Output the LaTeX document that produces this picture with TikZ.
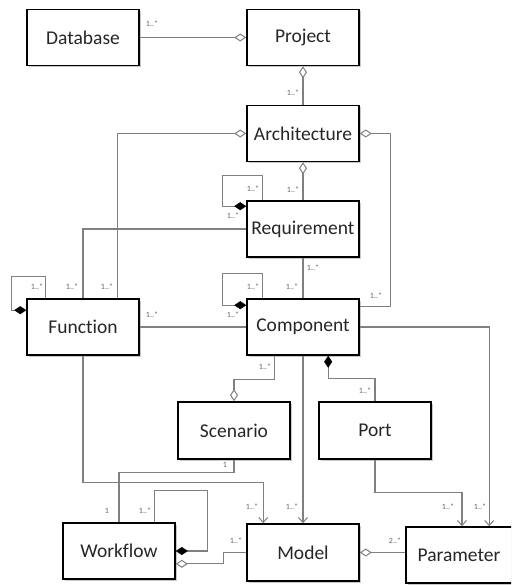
\documentclass[tikz,border=0pt]{standalone}
\usepackage{fontspec}
\setmainfont{Carlito}[RawFeature=-liga]
\usetikzlibrary{arrows.meta,calc,shadows}
\begin{document}
\begin{tikzpicture}[x=1pt,y=-1pt,
  cls/.style={draw=black,line width=1.6pt,fill=white,minimum width=112pt,minimum height=56pt,
    font=\fontsize{19.5}{22}\selectfont,text=black!85,inner sep=0pt,
    drop shadow={shadow xshift=2pt,shadow yshift=-2pt,fill=black!35,opacity=0.6}},
  conn/.style={draw=black!50,line width=1.1pt},
  agg/.style={conn,-{Diamond[open,fill=white,length=12pt,width=8pt,line width=1pt]}},
  aggs/.style={conn,{Diamond[open,fill=white,length=12pt,width=8pt,line width=1pt]}-},
  comp/.style={conn,-{Diamond[color=black,fill=black,length=12pt,width=8pt,line width=0.5pt]}},
  comps/.style={conn,{Diamond[color=black,fill=black,length=12pt,width=8pt,line width=0.5pt]}-},
  nav/.style={conn,-{Straight Barb[length=5pt,width=9pt,line width=1pt]}},
  mult/.style={font=\fontsize{8}{9}\selectfont,text=black!60,inner sep=0pt}
]
\clip (0,0) rectangle (511,585);
\fill[white] (0,0) rectangle (511,585);

% classes
\node[cls] (Database) at (83,37.5) {Database};
\node[cls] (Project) at (303,37.5) {Project};
\node[cls] (Architecture) at (303,133.5) {Architecture};
\node[cls] (Requirement) at (303,229) {Requirement};
\node[cls] (Function) at (83,327) {Function};
\node[cls] (Component) at (303,327) {Component};
\node[cls,minimum height=57pt] (Scenario) at (234,430.5) {Scenario};
\node[cls,minimum height=57pt] (Port) at (375,430.5) {Port};
\node[cls] (Workflow) at (119,551) {Workflow};
\node[cls,minimum height=57pt] (Model) at (303,552.5) {Model};
\node[cls] (Parameter) at (462,555) {\hspace*{-6pt}Parameter};

% Database - Project
\draw[agg] (Database.east) -- (Project.west);
\node[mult] (m1) at (152,24) {1..*};

% Project - Architecture
\draw[aggs] (Project.south) -- (Architecture.north);
\node[mult] (m2) at (293,93) {1..*};

% Architecture - Function
\draw[agg] ($(Function.north west)+(91,0)$) |- (Architecture.west);
\node[mult] (m3) at (107,287) {1..*};

% Architecture - Component (right)
\draw[agg] ($(Component.north east)+(0,8)$) -| ($(Architecture.east)+(31,0)$) -- (Architecture.east);
\node[mult] (m4) at (376,296) {1..*};

% Architecture - Requirement
\draw[aggs] (Architecture.south) -- (Requirement.north);
\node[mult] (m5) at (293,190) {1..*};

% Requirement self loop
\coordinate (rq1) at ($(Requirement.north west)+(16,-25)$);
\coordinate (rq2) at ($(Requirement.north west)+(-24,6)$);
\draw[comp] ($(Requirement.north west)+(16,0)$) -- (rq1) -| (rq2) -- ($(Requirement.north west)+(0,6)$);
\node[mult] (m6) at (253,189) {1..*};
\node[mult] (m7) at (233,216) {1..*};

% Requirement - Function
\draw[conn] (Requirement.west) -| (Function.north);
\node[mult] (m8) at (72,287) {1..*};

% Requirement - Component
\draw[conn] (Requirement.south) -- (Component.north);
\node[mult] (m9) at (313,268) {1..*};
\node[mult] (m10) at (292,287) {1..*};

% Component self loop
\coordinate (cp1) at ($(Component.north west)+(16,-25)$);
\coordinate (cp2) at ($(Component.north west)+(-24,7)$);
\draw[comp] ($(Component.north west)+(16,0)$) -- (cp1) -| (cp2) -- ($(Component.north west)+(0,7)$);
\node[mult] (m11) at (253,287) {1..*};
\node[mult] (m12) at (233,315) {1..*};

% Function self loop
\coordinate (fn1) at ($(Function.north west)+(19,-22)$);
\coordinate (fn2) at ($(Function.north west)+(-15,12)$);
\draw[comp] ($(Function.north west)+(19,0)$) -- (fn1) -| (fn2) -- ($(Function.north west)+(0,12)$);
\node[mult] (m13) at (37,287) {1..*};

% Function - Component
\draw[conn] (Function.east) -- (Component.west);
\node[mult] (m14) at (152,315) {1..*};

% Component - Parameter
\draw[nav] (Component.east) -| ($(Parameter.north west)+(84,0)$);
\node[mult] (m15) at (480,507) {1..*};

% Component - Scenario
\draw[agg] ($(Component.south west)+(28,0)$) -- ($(Component.south west)+(28,24)$) -| (Scenario.north);
\node[mult] (m16) at (265,367) {1..*};

% Component - Model
\draw[nav] (Component.south) -- (Model.north);
\node[mult] (m17) at (292,507) {1..*};

% Component - Port (composition)
\draw[comps] ($(Component.south west)+(82,0)$) |- ($(Port.north)+(0,-23)$) -- (Port.north);
\node[mult] (m18) at (365,391) {1..*};

% Port - Parameter
\draw[nav] (Port.south) -- ($(Port.south)+(0,33)$) -| (Parameter.north);
\node[mult] (m19) at (448,507) {1..*};

% Function - Model
\draw[nav] (Function.south) -- ($(Function.south)+(0,127)$) -| ($(Model.north west)+(17,0)$);
\node[mult] (m20) at (252,507) {1..*};

% Scenario - Workflow
\draw[conn] (Scenario.south) -- ($(Scenario.south)+(0,13)$) -| (Workflow.north);
\node[mult] (m21) at (225,465) {1};
\node[mult] (m22) at (107,511) {1};

% Workflow self loop
\coordinate (wf1) at ($(Workflow.north west)+(92,-32)$);
\coordinate (wf2) at ($(Workflow.east)+(32,0)$);
\draw[comp] ($(Workflow.north west)+(92,0)$) -- (wf1) -| (wf2) -- (Workflow.east);
\node[mult] (m23) at (145,511) {1..*};

% Model - Workflow
\draw[agg] (Model.west) -- ($(Model.west)+(-23,0)$) |- ($(Workflow.south east)+(0,-16)$);
\node[mult] (m24) at (236,541) {1..*};

% Parameter - Model
\draw[agg] (Parameter.west |- Model.east) -- (Model.east);
\node[mult] (m25) at (395,541) {2..*};
\end{tikzpicture}
\end{document}
